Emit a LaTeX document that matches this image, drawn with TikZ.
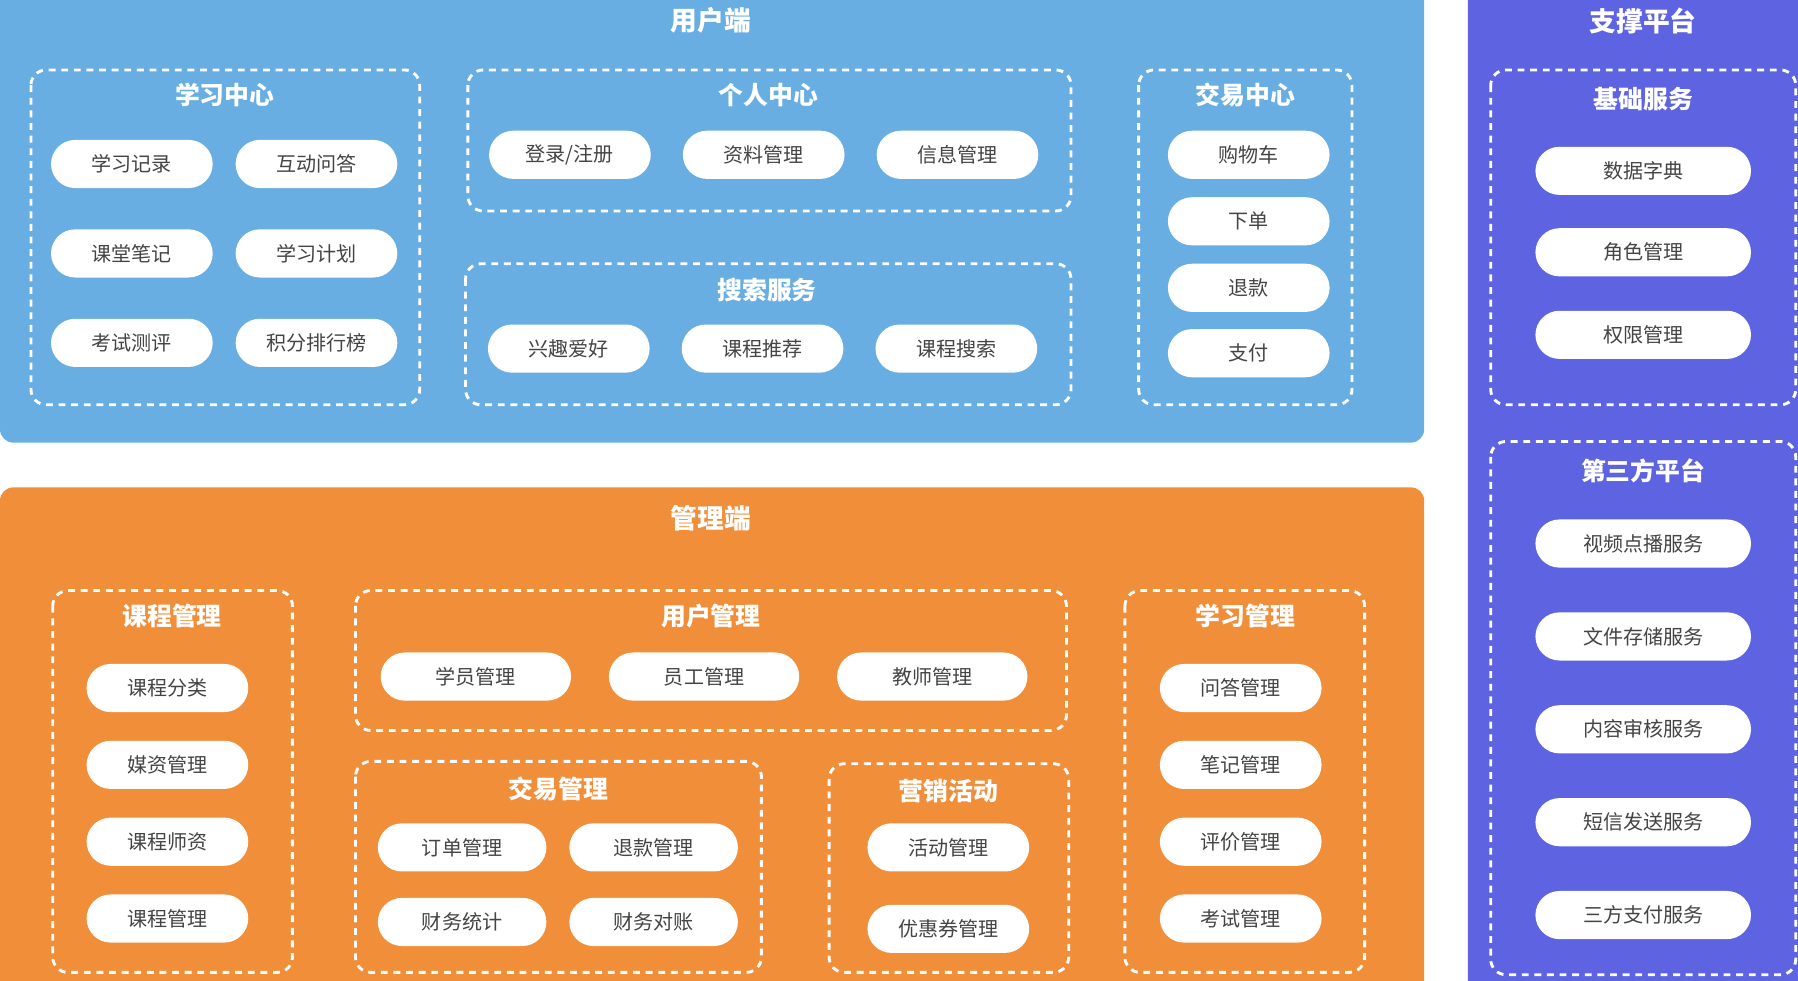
\documentclass[tikz,border=0pt]{standalone}
\usepackage{fontspec}
\setmainfont{Noto Sans CJK SC}
\usepackage{tikz}
\usetikzlibrary{positioning}
\definecolor{userblue}{RGB}{104,174,226}
\definecolor{adminorange}{RGB}{241,142,57}
\definecolor{platpurple}{RGB}{94,100,225}
\definecolor{pilltext}{RGB}{68,68,68}

\begin{document}
\begin{tikzpicture}[x=0.6pt,y=-0.6pt,
    panel/.style={rounded corners=7pt},
    group/.style={draw=white,line width=1.5pt,rounded corners=8pt,dash pattern=on 3.6pt off 3pt},
    pill/.style={fill=white,rounded corners=12.6pt,minimum width=84.6pt,minimum height=25.2pt,inner sep=0pt,
        text=pilltext,font=\fontsize{10.5}{12}\selectfont},
    wide/.style={minimum width=99.6pt},
    svc/.style={minimum width=112.8pt},
    title/.style={text=white,font=\fontsize{13}{15}\selectfont\bfseries},
    head/.style={text=white,font=\fontsize{14}{16}\selectfont\bfseries}]
            \clip (0,0) rectangle (1568,855);
            % panels
            \fill[userblue,panel] (0,-20) rectangle (1242,386);
            \fill[adminorange,panel] (0,425) rectangle (1242,880);
            \fill[platpurple,panel] (1280,-20) rectangle (1590,880);
            \node[head] (user) at (620,18) {用户端};
            \node[head] (admin) at (620,452) {管理端};
            \node[head] (plat) at (1433,18) {支撑平台};
            % 用户端
            \draw[group] (27,61) rectangle (366,353);
            \node[title] (xxzx) at (196,83) {学习中心};
            \node[pill] (xxjl) at (115,143) {学习记录};
            \node[pill] (hdwd) at (276,143) {互动问答};
            \node[pill] (ktbj) at (115,221) {课堂笔记};
            \node[pill] (xxjh) at (276,221) {学习计划};
            \node[pill] (kscp) at (115,299) {考试测评};
            \node[pill] (jfph) at (276,299) {积分排行榜};
            \draw[group] (408,61) rectangle (934,184);
            \node[title] (grzx) at (670,83) {个人中心};
            \node[pill] (dlzc) at (497,135) {登录/注册};
            \node[pill] (zlgl) at (666,135) {资料管理};
            \node[pill] (xxgl) at (835,135) {信息管理};
            \draw[group] (406,230) rectangle (934,353);
            \node[title] (ssfw) at (669,253) {搜索服务};
            \node[pill] (xqah) at (496,304) {兴趣爱好};
            \node[pill] (kctj) at (665,304) {课程推荐};
            \node[pill] (kcss) at (834,304) {课程搜索};
            \draw[group] (993,61) rectangle (1179,353);
            \node[title] (jyzx) at (1086,83) {交易中心};
            \node[pill] (gwc) at (1089,135) {购物车};
            \node[pill] (xd) at (1089,193) {下单};
            \node[pill] (tk) at (1089,251) {退款};
            \node[pill] (zf) at (1089,308) {支付};
            % 管理端
            \draw[group] (46,515) rectangle (255,848);
            \node[title] (kcgl) at (150,537) {课程管理};
            \node[pill] (kcfl) at (146,600) {课程分类};
            \node[pill] (mzgl) at (146,667) {媒资管理};
            \node[pill] (kcsz) at (146,734) {课程师资};
            \node[pill] (kcgl2) at (146,801) {课程管理};
            \draw[group] (310,515) rectangle (930,637);
            \node[title] (yhgl) at (620,537) {用户管理};
            \node[pill,wide] (xygl) at (415,590) {学员管理};
            \node[pill,wide] (yggl) at (614,590) {员工管理};
            \node[pill,wide] (jsgl) at (813,590) {教师管理};
            \draw[group] (310,664) rectangle (664,848);
            \node[title] (jygl) at (487,688) {交易管理};
            \node[pill,minimum width=88.2pt] (ddgl) at (403,739) {订单管理};
            \node[pill,minimum width=88.2pt] (tkgl) at (570,739) {退款管理};
            \node[pill,minimum width=88.2pt] (cwtj) at (403,804) {财务统计};
            \node[pill,minimum width=88.2pt] (cwdz) at (570,804) {财务对账};
            \draw[group] (723,666) rectangle (932,848);
            \node[title] (yxhd) at (827,690) {营销活动};
            \node[pill] (hdgl) at (827,739) {活动管理};
            \node[pill] (yhqgl) at (827,810) {优惠券管理};
            \draw[group] (981,515) rectangle (1190,848);
            \node[title] (xxgl2) at (1086,537) {学习管理};
            \node[pill] (wdgl) at (1082,600) {问答管理};
            \node[pill] (bjgl) at (1082,667) {笔记管理};
            \node[pill] (pjgl) at (1082,734) {评价管理};
            \node[pill] (ksgl) at (1082,801) {考试管理};
            % 支撑平台
            \draw[group] (1300,61) rectangle (1566,353);
            \node[title] (jcfw) at (1433,86) {基础服务};
            \node[pill,svc] (sjzd) at (1433,149) {数据字典};
            \node[pill,svc] (jsgl2) at (1433,220) {角色管理};
            \node[pill,svc] (qxgl) at (1433,292) {权限管理};
            \draw[group] (1300,385) rectangle (1566,850);
            \node[title] (dsfpt) at (1433,411) {第三方平台};
            \node[pill,svc] (spdb) at (1433,474) {视频点播服务};
            \node[pill,svc] (wjcc) at (1433,555) {文件存储服务};
            \node[pill,svc] (nrsh) at (1433,636) {内容审核服务};
            \node[pill,svc] (dxfs) at (1433,717) {短信发送服务};
            \node[pill,svc] (sfzf) at (1433,798) {三方支付服务};
        \end{tikzpicture}
\end{document}
